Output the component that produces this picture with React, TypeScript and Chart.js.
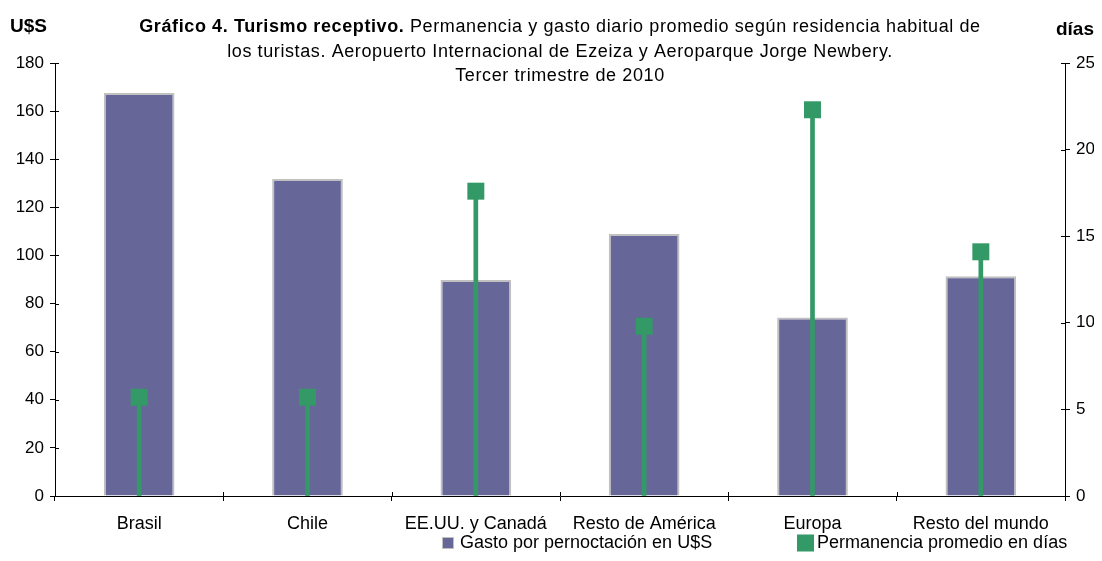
import React, { useEffect, useRef } from "react";
import { Chart, registerables } from "chart.js";

Chart.register(...registerables);

const categories = ["Brasil", "Chile", "EE.UU. y Canadá", "Resto de América", "Europa", "Resto del mundo"];
const gastoUSD = [167.5, 131.8, 89.8, 108.9, 74.2, 91.4];
const permanenciaDias = [5.7, 5.7, 17.6, 9.8, 22.3, 14.1];
const leftTicks = [0, 20, 40, 60, 80, 100, 120, 140, 160, 180];
const rightTicks = [0, 5, 10, 15, 20, 25];

const titleBold = "Gráfico 4. Turismo receptivo.";
const titleRest1 = " Permanencia y gasto diario promedio según residencia habitual de";
const titleLine2 = "los turistas. Aeropuerto Internacional de Ezeiza y Aeroparque Jorge Newbery.";
const titleLine3 = "Tercer trimestre de 2010";
const leftUnit = "U$S";
const rightUnit = "días";
const legendGasto = "Gasto por pernoctación en U$S";
const legendPerm = "Permanencia promedio en días";

const FONT = "'Liberation Sans', Arial, sans-serif";
const PURPLE = "#666699";
const GREEN = "#339966";

const decorPlugin = {
  id: "decor",
  afterDraw(chart: any) {
    const ctx = chart.ctx;
    const area = chart.chartArea;
    const cx = (area.left + area.right) / 2;
    ctx.save();
    ctx.fillStyle = "#000";
    ctx.textBaseline = "middle";
    // title (first line mixes bold and normal)
    const tSize = 18;
    ctx.letterSpacing = "0.6px";
    ctx.font = `bold ${tSize}px ${FONT}`;
    const wb = ctx.measureText(titleBold).width;
    ctx.font = `${tSize}px ${FONT}`;
    const wr = ctx.measureText(titleRest1).width;
    const x0 = cx - (wb + wr) / 2;
    ctx.textAlign = "left";
    ctx.font = `bold ${tSize}px ${FONT}`;
    ctx.fillText(titleBold, x0, 19);
    ctx.font = `${tSize}px ${FONT}`;
    ctx.fillText(titleRest1, x0 + wb, 19);
    ctx.textAlign = "center";
    ctx.fillText(titleLine2, cx, 44);
    ctx.fillText(titleLine3, cx, 68);
    ctx.letterSpacing = "0px";
    // units
    ctx.font = `bold 19px ${FONT}`;
    ctx.textAlign = "left";
    ctx.fillText(leftUnit, 2, 19);
    ctx.textAlign = "right";
    ctx.fillText(rightUnit, chart.width, 22);
    // inner halves of tick marks
    ctx.strokeStyle = "#000";
    ctx.lineWidth = 1;
    const y = chart.scales.y;
    const y2 = chart.scales.y2;
    const xs = chart.scales.x;
    ctx.beginPath();
    leftTicks.forEach((v) => {
      const py = Math.round(y.getPixelForValue(v)) + 0.5;
      ctx.moveTo(area.left, py);
      ctx.lineTo(area.left + 4, py);
    });
    rightTicks.forEach((v) => {
      const py = Math.round(y2.getPixelForValue(v)) + 0.5;
      ctx.moveTo(area.right, py);
      ctx.lineTo(area.right - 4, py);
    });
    for (let i = 1; i < categories.length; i++) {
      const px = Math.round((xs.getPixelForValue(i - 1) + xs.getPixelForValue(i)) / 2) + 0.5;
      ctx.moveTo(px, area.bottom);
      ctx.lineTo(px, area.bottom - 4);
    }
    ctx.stroke();
    // legend
    const ds = chart.data.datasets;
    ctx.font = `18px ${FONT}`;
    ctx.textAlign = "left";
    const ly = 535;
    ctx.fillStyle = ds[0].backgroundColor;
    ctx.fillRect(434, ly - 6, 12, 12);
    ctx.strokeStyle = "#c0c0c0";
    ctx.strokeRect(434.5, ly - 5.5, 11, 11);
    ctx.fillStyle = "#000";
    ctx.fillText(legendGasto, 452, ly);
    ctx.fillStyle = ds[2].backgroundColor;
    ctx.fillRect(789, ly - 8.5, 17, 17);
    ctx.fillStyle = "#000";
    ctx.fillText(legendPerm, 809, ly);
    ctx.restore();
  },
};

export default function App() {
  const ref = useRef<HTMLCanvasElement>(null);
  useEffect(() => {
    if (!ref.current) return;
    const chart = new Chart(ref.current, {
      type: "bar",
      data: {
        labels: categories,
        datasets: [
          {
            label: legendGasto,
            data: gastoUSD,
            yAxisID: "y",
            backgroundColor: PURPLE,
            borderColor: "#c0c0c0",
            borderWidth: 2,
            grouped: false,
            categoryPercentage: 1,
            barPercentage: 0.42,
            order: 3,
          } as any,
          {
            label: "stem",
            data: permanenciaDias,
            yAxisID: "y2",
            backgroundColor: GREEN,
            borderWidth: 0,
            grouped: false,
            barThickness: 4,
            order: 2,
          } as any,
          {
            type: "line",
            label: legendPerm,
            data: permanenciaDias,
            yAxisID: "y2",
            showLine: false,
            pointStyle: "rect",
            pointRadius: 12,
            pointHoverRadius: 12,
            backgroundColor: GREEN,
            borderColor: GREEN,
            pointBorderWidth: 0,
            order: 1,
          } as any,
        ],
      },
      options: {
        animation: false,
        responsive: true,
        maintainAspectRatio: false,
        layout: { padding: { top: 55, bottom: 12, left: 0, right: 0 } },
        plugins: {
          legend: { display: false },
          title: { display: false },
          tooltip: { enabled: false },
        },
        scales: {
          x: {
            offset: true,
            grid: { display: true, drawOnChartArea: false, offset: true, tickLength: 5, color: "#000" },
            border: { color: "#000" },
            ticks: { color: "#000", font: { family: FONT, size: 18 }, padding: 12, maxRotation: 0, autoSkip: false },
            afterFit: (s: any) => { s.height = 45; },
          },
          y: {
            position: "left",
            min: 0,
            max: 180,
            ticks: { stepSize: 20, color: "#000", font: { family: FONT, size: 17 }, padding: 6 },
            grid: { drawOnChartArea: false, tickLength: 5, color: "#000" },
            border: { color: "#000" },
            afterFit: (s: any) => { s.width = 47; },
          },
          y2: {
            position: "right",
            min: 0,
            max: 25,
            ticks: { stepSize: 5, color: "#000", font: { family: FONT, size: 17 }, padding: 6 },
            grid: { drawOnChartArea: false, tickLength: 5, color: "#000" },
            border: { color: "#000" },
            afterFit: (s: any) => { s.width = 29; },
          },
        },
      },
      plugins: [decorPlugin],
    });
    return () => chart.destroy();
  }, []);
  return (
    <div style={{ position: "relative", width: "100%", height: 545 }}>
      <canvas ref={ref} />
    </div>
  );
}
